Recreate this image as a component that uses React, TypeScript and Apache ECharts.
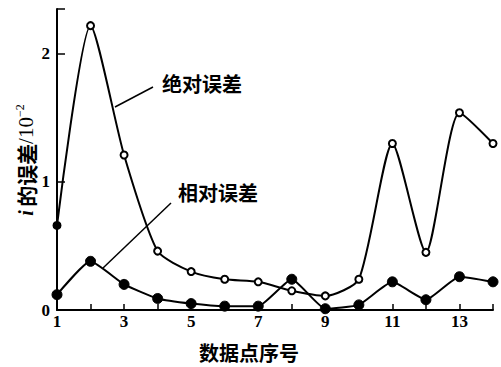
import React, { useEffect, useRef } from "react";
import * as echarts from "echarts";

const xValues = [1, 2, 3, 4, 5, 6, 7, 8, 9, 10, 11, 12, 13, 14];
const absoluteError = [0.66, 2.22, 1.21, 0.46, 0.3, 0.24, 0.22, 0.15, 0.11, 0.24, 1.3, 0.45, 1.54, 1.3];
const relativeError = [0.12, 0.38, 0.2, 0.09, 0.05, 0.03, 0.03, 0.24, 0.01, 0.04, 0.22, 0.08, 0.26, 0.22];
const xTickLabels = ["1", "3", "5", "7", "9", "11", "13"];
const yTickLabels = ["0", "1", "2"];

const SERIF = "'Liberation Serif', 'DejaVu Serif', serif";
const CJK = "'Noto Sans CJK SC', sans-serif";

export default function App() {
  const ref = useRef<HTMLDivElement>(null);
  useEffect(() => {
    if (!ref.current) return;
    const chart = echarts.init(ref.current, undefined, { renderer: "svg" });
    const absData = xValues.map((x, i) =>
      i === 0
        ? { value: [x, absoluteError[i]], itemStyle: { color: "#000" } }
        : { value: [x, absoluteError[i]] }
    );
    const relData = xValues.map((x, i) => [x, relativeError[i]]);
    chart.setOption({
      animation: false,
      backgroundColor: "#fff",
      grid: { left: 57, right: 8, top: 9, bottom: 57 },
      xAxis: {
        type: "value",
        min: 1,
        max: 14,
        interval: 1,
        splitLine: { show: false },
        axisLine: { lineStyle: { color: "#000", width: 2 } },
        axisTick: { inside: true, length: 6, lineStyle: { color: "#000", width: 1.5 } },
        axisLabel: {
          margin: 3,
          color: "#000",
          fontFamily: SERIF,
          fontWeight: "bold",
          fontSize: 17,
          formatter: (v: number) => (xTickLabels.includes(String(v)) ? String(v) : ""),
        },
      },
      yAxis: {
        type: "value",
        min: 0,
        max: 2.35,
        interval: 1,
        splitLine: { show: false },
        axisLine: { show: true, lineStyle: { color: "#000", width: 2 } },
        axisTick: { inside: true, length: 8, lineStyle: { color: "#000", width: 1.5 } },
        axisLabel: {
          margin: 7,
          color: "#000",
          fontFamily: SERIF,
          fontWeight: "bold",
          fontSize: 17,
          formatter: (v: number) => (yTickLabels.includes(String(v)) ? String(v) : ""),
        },
      },
      series: [
        {
          name: "绝对误差",
          type: "line",
          data: absData,
          smooth: 0.22,
          symbol: "circle",
          symbolSize: 7,
          itemStyle: { color: "#fff", borderColor: "#000", borderWidth: 2 },
          lineStyle: { color: "#000", width: 2 },
          z: 3,
        },
        {
          name: "相对误差",
          type: "line",
          data: relData,
          smooth: 0.15,
          symbol: "circle",
          symbolSize: 10,
          itemStyle: { color: "#000", borderColor: "#000", borderWidth: 1 },
          lineStyle: { color: "#000", width: 2 },
          z: 2,
        },
      ],
      graphic: [
        {
          type: "line",
          shape: { x1: 153, y1: 87, x2: 115, y2: 107 },
          style: { stroke: "#000", lineWidth: 1.5 },
        },
        {
          type: "text",
          x: 162,
          y: 83,
          style: { text: "绝对误差", font: `bold 20px ${CJK}`, fill: "#000", verticalAlign: "middle" },
        },
        {
          type: "line",
          shape: { x1: 171, y1: 203, x2: 103, y2: 268 },
          style: { stroke: "#000", lineWidth: 1.5 },
        },
        {
          type: "text",
          x: 178,
          y: 192,
          style: { text: "相对误差", font: `bold 20px ${CJK}`, fill: "#000", verticalAlign: "middle" },
        },
        {
          type: "text",
          x: 249,
          y: 352,
          style: {
            text: "数据点序号",
            font: `bold 20px ${CJK}`,
            fill: "#000",
            align: "center",
            verticalAlign: "middle",
          },
        },
        {
          type: "text",
          x: 26,
          y: 160,
          rotation: Math.PI / 2,
          style: {
            text: "{i|i} {c|的误差}{n|/10}{s|−2}",
            align: "center",
            verticalAlign: "middle",
            fill: "#000",
            rich: {
              i: { fontFamily: SERIF, fontStyle: "italic", fontWeight: "bold", fontSize: 20, lineHeight: 24 },
              c: { fontFamily: CJK, fontWeight: "bold", fontSize: 21, lineHeight: 24 },
              n: { fontFamily: SERIF, fontSize: 21, lineHeight: 24 },
              s: { fontFamily: SERIF, fontSize: 12, lineHeight: 24, verticalAlign: "top" },
            },
          },
        },
      ],
    });
    return () => chart.dispose();
  }, []);
  return (
    <div
      ref={ref}
      style={{ position: "absolute", left: 0, top: 0, width: 501, height: 367 }}
    />
  );
}
